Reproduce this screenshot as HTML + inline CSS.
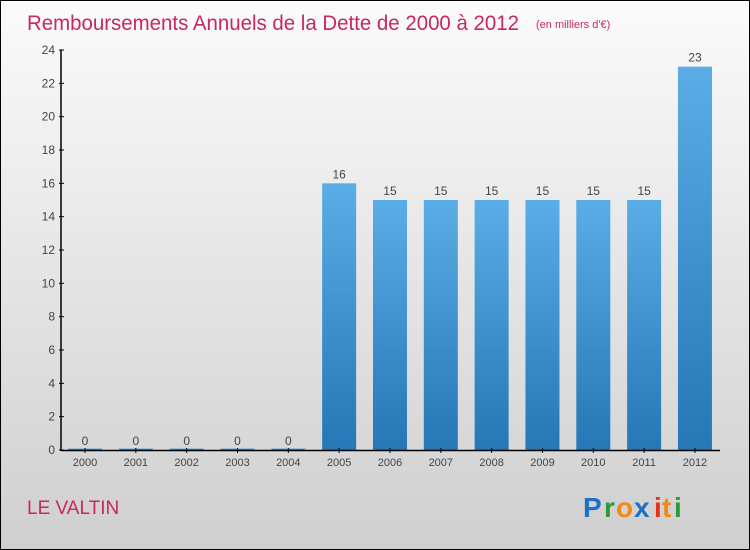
<!DOCTYPE html>
<html><head><meta charset="utf-8"><style>
body{margin:0}
#c{width:750px;height:550px;position:relative;box-sizing:border-box;border:1px solid #000;background:linear-gradient(#fbfbfb,#cfcfcf);font-family:"Liberation Sans",sans-serif;overflow:hidden}
</style></head><body>
<div id="c">
<svg width="750" height="550" style="position:absolute;left:-1px;top:-1px">
<defs><linearGradient id="g" x1="0" y1="0" x2="0" y2="1"><stop offset="0" stop-color="#5aade6"/><stop offset="1" stop-color="#2577b5"/></linearGradient></defs>
<text x="27" y="30" font-size="21" fill="#c8285a" textLength="492" lengthAdjust="spacingAndGlyphs">Remboursements Annuels de la Dette de 2000 à 2012</text>
<text x="536" y="28" font-size="11" fill="#c8285a">(en milliers d'€)</text>
<g id="ax"></g>
<text x="27" y="514" font-size="19" fill="#c8285a">LE VALTIN</text>
<g font-size="28" font-weight="bold" font-family="'Liberation Sans',sans-serif">
<text x="583" y="517" fill="#1a6fc7">P</text><text x="604" y="517" fill="#2a9a3a">r</text><text x="616" y="517" fill="#f08a10">o</text><text x="634" y="517" fill="#1a6fc7">x</text><text x="654" y="517" fill="#e83020">i</text><text x="662" y="517" fill="#f08a10">t</text><text x="674" y="517" fill="#2a9a3a">i</text>
</g>
</svg></div>
<script>
const categories=["2000","2001","2002","2003","2004","2005","2006","2007","2008","2009","2010","2011","2012"];
const values=[0,0,0,0,0,16,15,15,15,15,15,15,23];
const yTicks=[0,2,4,6,8,10,12,14,16,18,20,22,24];
const NS="http://www.w3.org/2000/svg",g=document.getElementById("ax");
const y=v=>450-v*400/24, x=i=>85+i*50.83;
function mk(t,a,txt){const e=document.createElementNS(NS,t);for(const k in a)e.setAttribute(k,a[k]);if(txt!=null)e.textContent=txt;g.appendChild(e);return e;}
values.forEach((v,i)=>{
 const h=Math.max(y(0)-y(v),1.5);
 const r=mk("rect",{x:x(i)-17,y:y(0)-h,width:34,height:h,fill:"url(#g)"});
 
 
 const t=mk("text",{x:x(i),y:y(v)-5,"font-size":12,fill:"#444","text-anchor":"middle"},values[i]);
 
 
 const c=mk("text",{x:x(i),y:466,"font-size":11,fill:"#444","text-anchor":"middle"},categories[i]);
 
 
 const tk=mk("line",{x1:x(i),x2:x(i),y1:448,y2:453,stroke:"#000"});
 
 
});
yTicks.forEach(v=>{
 const t=mk("text",{x:55,y:y(v)+4,"font-size":12,fill:"#444","text-anchor":"end"},v);
 
 
 const l=mk("line",{x1:59,x2:64,y1:y(v),y2:y(v),stroke:"#000"});
 
 
});
const ya=mk("line",{x1:61,x2:61,y1:y(24),y2:451,stroke:"#000","stroke-width":1.5});


const xa=mk("line",{x1:61,x2:720,y1:450.5,y2:450.5,stroke:"#000","stroke-width":1.5});


</script>
</body></html>
